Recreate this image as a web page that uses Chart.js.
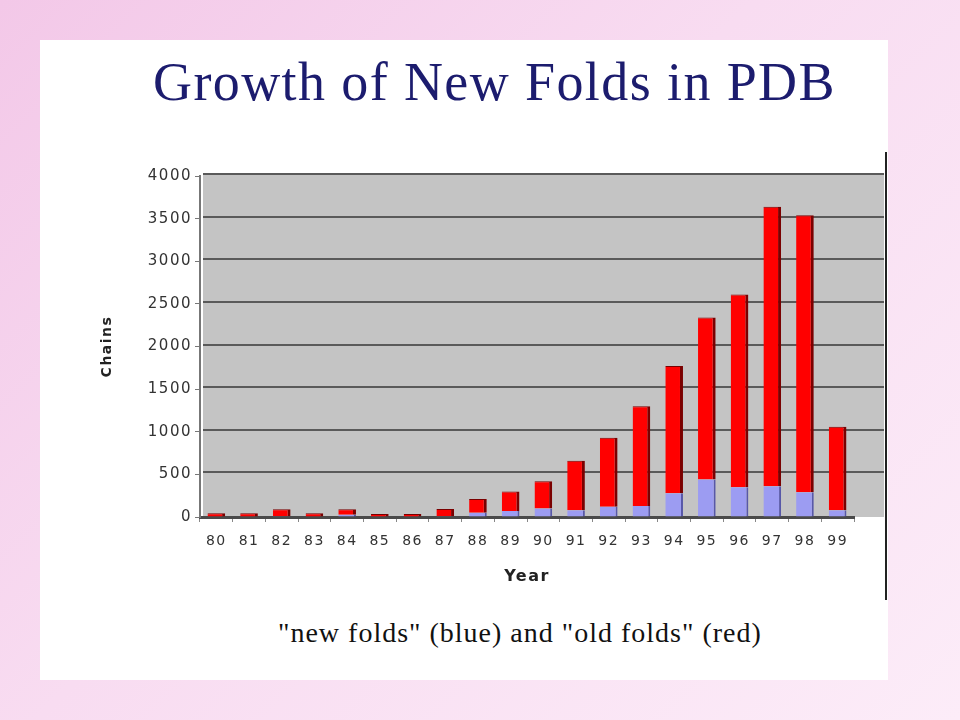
<!DOCTYPE html>
<html>
<head>
<meta charset="utf-8">
<script src="https://cdn.jsdelivr.net/npm/chart.js@4/dist/chart.umd.min.js"></script>
<style>
  html, body { margin: 0; padding: 0; }
  body {
    width: 960px; height: 720px; position: relative; overflow: hidden;
    background: linear-gradient(135deg, #f3c8e8 0%, #f8dcf1 45%, #fcecf8 100%);
  }
  .panel {
    position: absolute; left: 40px; top: 40px; width: 848px; height: 640px;
    background: #ffffff;
  }
  .title {
    position: absolute; left: 153px; top: 51px; white-space: nowrap;
    font-family: "Liberation Serif", "DejaVu Serif", serif;
    font-size: 54px; color: #1c1c6e; letter-spacing: 1.4px;
  }
  .caption {
    position: absolute; left: 278px; top: 617px; white-space: nowrap;
    font-family: "Liberation Serif", serif;
    font-size: 28px; color: #111; letter-spacing: 1px;
  }
  .edge {
    position: absolute; left: 885px; top: 152px; width: 2px; height: 448px; background: #222;
  }
  .chart-box { position: absolute; left: 88px; top: 160px; width: 796px; height: 430px; }
</style>
</head>
<body>
<div class="panel"></div>
<div class="title">Growth of New Folds in PDB</div>
<div class="edge"></div>
<div class="chart-box"><canvas id="foldChart"></canvas></div>
<div class="caption">"new folds" (blue) and "old folds" (red)</div>

<script>
const years = ['80', '81', '82', '83', '84', '85', '86', '87', '88', '89',
               '90', '91', '92', '93', '94', '95', '96', '97', '98', '99'];
// new folds (blue, bottom of each bar)
const newFolds = [5, 5, 10, 5, 25, 5, 5, 10, 50, 70, 100, 80, 120, 130, 280, 440, 350, 360, 290, 80];
// old folds (red, stacked on top)
const oldFolds = [40, 40, 80, 40, 65, 30, 30, 85, 160, 230, 320, 580, 810, 1170, 1490, 1900, 2260, 3280, 3250, 980];
const yTicks = [0, 500, 1000, 1500, 2000, 2500, 3000, 3500, 4000];

const tickFont = 'DejaVu Sans, Arial, sans-serif';

// grey back wall + gridlines that run under the 3D depth on the right
const backWall = {
  id: 'backWall',
  beforeDraw(chart) {
    const { ctx, chartArea: a } = chart;
    const y = chart.scales.y;
    ctx.save();
    ctx.fillStyle = '#c4c4c4';
    ctx.fillRect(a.left + 3, a.top - 2, a.right - a.left + 28, a.bottom - a.top + 2);
    ctx.strokeStyle = '#5a5a5a';
    ctx.lineWidth = 2;
    yTicks.forEach(v => {
      const py = Math.round(y.getPixelForValue(v)) - 2;
      if (v === 0) return;
      ctx.beginPath();
      ctx.moveTo(a.left + 3, py);
      ctx.lineTo(a.right + 31, py);
      ctx.stroke();
    });
    ctx.restore();
    ctx.letterSpacing = '1.5px';
  }
};

new Chart(document.getElementById('foldChart').getContext('2d'), {
  type: 'bar',
  data: {
    labels: years,
    datasets: [
      {
        label: 'new folds',
        data: newFolds,
        backgroundColor: '#9c9cf2',
        borderColor: '#5858a8',
        borderWidth: { right: 2 },
        stack: 'folds'
      },
      {
        label: 'old folds',
        data: oldFolds,
        backgroundColor: '#ff0000',
        borderColor: '#7a0000',
        borderWidth: { right: 3, top: 1 },
        stack: 'folds'
      }
    ]
  },
  plugins: [backWall],
  options: {
    responsive: true,
    maintainAspectRatio: false,
    animation: false,
    layout: { padding: { top: 16, right: 30, left: 11, bottom: 0 } },
    plugins: {
      legend: { display: false },
      tooltip: { enabled: false }
    },
    datasets: { bar: { categoryPercentage: 1, barPercentage: 0.54 } },
    scales: {
      x: {
        stacked: true,
        afterFit(scale) { scale.height = 73; },
        grid: { display: true, drawOnChartArea: false, offset: true, tickLength: 5, tickColor: '#888' },
        border: { color: '#4a4a4a', width: 3 },
        ticks: {
          color: '#333', maxRotation: 0, autoSkip: false, padding: 11,
          font: { family: tickFont, size: 14 }
        },
        title: {
          display: true, text: 'Year', color: '#222', padding: { top: 4, bottom: 4 },
          font: { family: tickFont, size: 16, weight: 'bold' }
        }
      },
      y: {
        stacked: true,
        min: 0, max: 4000,
        afterFit(scale) { scale.width = 101; },
        afterBuildTicks(scale) { scale.ticks = yTicks.map(v => ({ value: v })); },
        grid: { drawOnChartArea: false, tickLength: 5, tickColor: '#777' },
        border: { color: '#777', width: 2 },
        ticks: {
          color: '#333', padding: 3,
          callback: v => String(v),
          font: { family: tickFont, size: 15 }
        },
        title: {
          display: true, text: 'Chains', color: '#222', padding: { top: 0, bottom: 4 },
          font: { family: tickFont, size: 14, weight: 'bold' }
        }
      }
    }
  }
});
</script>
</body>
</html>
